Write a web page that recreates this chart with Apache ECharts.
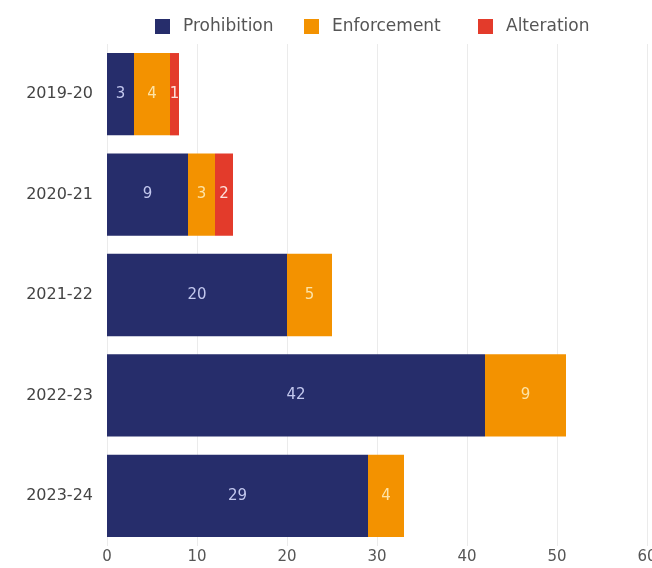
<!DOCTYPE html>
<html>
<head>
<meta charset="utf-8">
<script src="https://cdn.jsdelivr.net/npm/echarts@6/dist/echarts.min.js"></script>
<style>
  html, body { margin: 0; padding: 0; background: #fff; }
  #chart { width: 652px; height: 568px; }
</style>
</head>
<body>
<div id="chart"></div>
<script>
// Case counts per financial year, split by type
const years = ['2019-20', '2020-21', '2021-22', '2022-23', '2023-24'];
const prohibition = [3, 9, 20, 42, 29];
const enforcement = [4, 3, 5, 9, 4];
const alteration = [1, 2, 0, 0, 0];
const xTicks = { min: 0, max: 60, interval: 10 };

const font = '"DejaVu Sans", "Noto Sans", sans-serif';

function makeSeries(name, data, color, labelColor) {
  return {
    name: name,
    type: 'bar',
    stack: 'total',
    data: data,
    barWidth: '82%',
    itemStyle: { color: color },
    label: {
      show: true,
      position: 'inside',
      color: labelColor,
      fontFamily: font,
      fontSize: 15,
      formatter: p => (p.value ? String(p.value) : '')
    }
  };
}

// one legend block per series so each entry sits at its own x
function legendAt(name, left) {
  return {
    top: 18,
    left: left,
    padding: 0,
    itemWidth: 15,
    itemHeight: 15,
    icon: 'rect',
    textStyle: { color: '#555', fontSize: 17, fontFamily: font, padding: [0, 0, 0, 8] },
    data: [name]
  };
}

const chart = echarts.init(document.getElementById('chart'));
chart.setOption({
  animation: false,
  textStyle: { fontFamily: font },
  legend: [
    legendAt('Prohibition', 155),
    legendAt('Enforcement', 304),
    legendAt('Alteration', 478)
  ],
  grid: { left: 107, right: 5, top: 44, bottom: 22, containLabel: false, outerBoundsMode: 'none' },
  xAxis: {
    type: 'value',
    min: xTicks.min,
    max: xTicks.max,
    interval: xTicks.interval,
    axisLine: { show: false },
    axisTick: { show: false },
    axisLabel: { color: '#555', fontSize: 15, margin: 4, fontFamily: font },
    splitLine: { lineStyle: { color: '#ebebeb' } }
  },
  yAxis: {
    type: 'category',
    data: years,
    inverse: true,
    axisLine: { show: false },
    axisTick: { show: false },
    axisLabel: { color: '#444', fontSize: 16, margin: 14, fontFamily: font }
  },
  series: [
    makeSeries('Prohibition', prohibition, '#262d6b', '#c3c8ee'),
    makeSeries('Enforcement', enforcement, '#f39200', '#fde3a6'),
    makeSeries('Alteration', alteration, '#e33b2b', '#fde0dc')
  ]
});
</script>
</body>
</html>
